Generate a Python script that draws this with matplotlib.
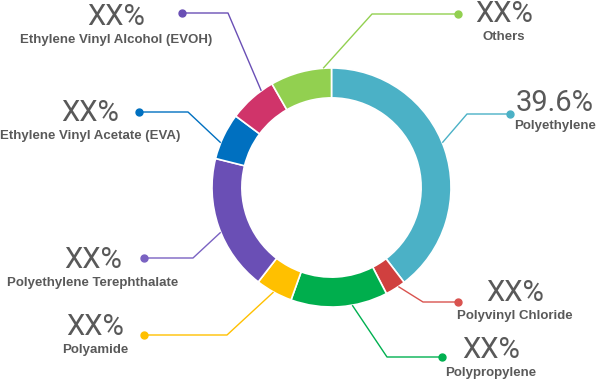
import numpy as np
import matplotlib
matplotlib.use("Agg")
import matplotlib.pyplot as plt

# segment data, clockwise from 12 o'clock
names = ['Polyethylene', 'Polyvinyl Chloride', 'Polypropylene', 'Polyamide',
         'Polyethylene Terephthalate', 'Ethylene Vinyl Acetate (EVA)',
         'Ethylene Vinyl Alcohol (EVOH)', 'Others']
shares = [39.6, 2.8, 13.1, 5.0, 18.4, 6.3, 6.5, 8.3]
value_text = ['39.6%', 'XX%', 'XX%', 'XX%', 'XX%', 'XX%', 'XX%', 'XX%']
colors = ['#4BB1C6', '#D0403F', '#00AE4D', '#FFC000',
          '#6A4FB5', '#0070C0', '#D0346A', '#92D050']
line_colors = ['#4BB1C6', '#D9534F', '#00B050', '#FFC000',
               '#7A62C2', '#0070C0', '#6A4FB5', '#92D050']

# layout (pixels, y downwards)
cx, cy, R = 331.5, 187.5, 119.5
anchor_deg = [68, 146, 170, 209, 248, 292, 324, 356]   # clockwise from top
elbow = [(467, 114), (423, 302), (387, 357), (227, 335),
         (193, 258), (188, 112), (228, 13), (372, 14)]
dot_x = [510, 458, 442, 144, 144, 139, 182, 458]
text_cx = [555, 515, 491, 95, 93, 90, 116, 504]
text_y = [103, 293, 350, 327, 260, 113, 17, 14]

fig = plt.figure(figsize=(5.98, 3.82), dpi=100)
ax = fig.add_axes([0, 0, 1, 1])

ax.pie(shares, colors=colors, center=(cx, cy), radius=R, startangle=270,
       counterclock=True, frame=True,
       wedgeprops=dict(width=R * 0.25, edgecolor='white', linewidth=1.2))
ax.set_xlim(0, 598)
ax.set_ylim(382, 0)
ax.set_aspect('equal')
ax.axis('off')

for i, name in enumerate(names):
    a = np.deg2rad(anchor_deg[i])
    ax0 = cx + R * np.sin(a)
    ay0 = cy - R * np.cos(a)
    ex, ey = elbow[i]
    ax.plot([ax0, ex, dot_x[i]], [ay0, ey, ey], color=line_colors[i], lw=1,
            solid_capstyle='butt', zorder=3)
    ax.plot(dot_x[i], ey, 'o', color=line_colors[i], ms=5, zorder=4)
    ax.text(text_cx[i], text_y[i], value_text[i], ha='center', va='center',
            fontsize=21, color='#595959', family='Roboto')
    ax.text(text_cx[i], text_y[i] + 23, name, ha='center', va='center',
            fontsize=9.5, color='#595959', family='Liberation Sans',
            fontweight='bold')

fig.savefig('out.png', dpi=100)
